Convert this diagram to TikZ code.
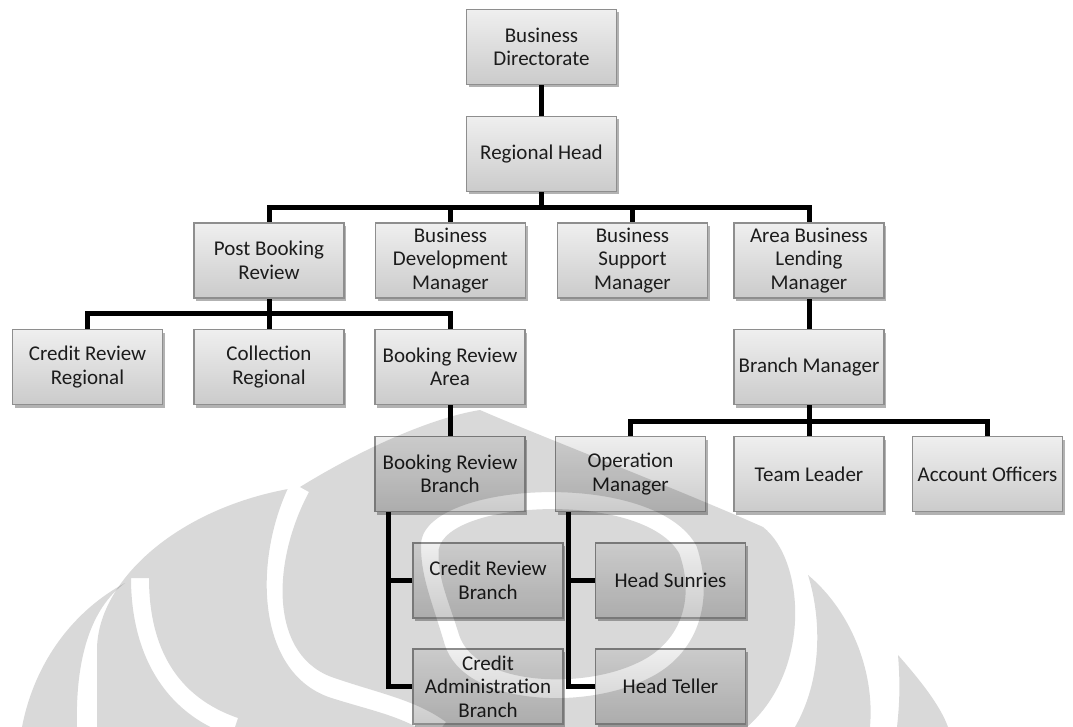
\documentclass[tikz,border=0pt]{standalone}
\usepackage{fontspec}
\setmainfont{Carlito}
\usetikzlibrary{shadows}
\pgfdeclarelayer{background}
\pgfdeclarelayer{foreground}
\pgfsetlayers{background,main,foreground}
\definecolor{boxtop}{HTML}{EFEFEF}
\definecolor{boxbot}{HTML}{CBCBCB}
\definecolor{boxline}{HTML}{8E8E8E}
\definecolor{txt}{HTML}{1C1C1C}
\begin{document}
\begin{tikzpicture}[x=1pt,y=-1pt,
  box/.style={rectangle, draw=boxline, line width=1.2pt, top color=boxtop, bottom color=boxbot,
    minimum width=150pt, minimum height=75pt, inner sep=1pt, align=center, text=txt,
    font=\fontsize{21pt}{23.5pt}\selectfont,
    drop shadow={shadow xshift=2pt, shadow yshift=-3pt, opacity=0.3, fill=black}},
  link/.style={line width=5pt, draw=black},
  wmark/.style={fill=black, fill opacity=0.15}]
\useasboundingbox (0,0) rectangle (1073,727);

\node[box] (bd) at (541.5,47) {Business\\Directorate};
\node[box] (rh) at (541.5,154) {Regional Head};
\node[box] (pbr) at (269,260.5) {Post Booking\\Review};
\node[box] (bdm) at (450.5,260.5) {Business\\Development\\Manager};
\node[box] (bsm) at (632.5,260.5) {Business\\Support\\Manager};
\node[box] (ablm) at (809,260.5) {Area Business\\Lending\\Manager};
\node[box] (crr) at (87.5,367) {Credit Review\\Regional};
\node[box] (cr) at (269,367) {Collection\\Regional};
\node[box] (bra) at (450,367) {Booking Review\\Area};
\node[box] (bm) at (809,367) {Branch Manager};
\node[box] (brb) at (450,474) {Booking Review\\Branch};
\node[box] (om) at (630.5,474) {Operation\\Manager};
\node[box] (tl) at (809,474) {Team Leader};
\node[box] (ao) at (987.5,474) {Account Officers};
\node[box] (crb) at (488,580.5) {Credit Review\\Branch};
\node[box] (cab) at (488,686.5) {Credit\\Administration\\Branch};
\node[box] (hs) at (670.5,580.5) {Head Sunries};
\node[box] (ht) at (670.5,686.5) {Head Teller};

\begin{pgfonlayer}{background}
\draw[link] (bd) -- (rh);
\foreach \c in {pbr,bdm,bsm,ablm} \draw[link] (rh.south) -- ++(0,15) -| (\c.north);
\foreach \c in {crr,cr,bra} \draw[link] (pbr.south) -- ++(0,15) -| (\c.north);
\draw[link] (bra) -- (brb);
\draw[link] (ablm) -- (bm);
\foreach \c in {om,tl,ao} \draw[link] (bm.south) -- ++(0,16) -| (\c.north);
\draw[link] (brb.south west) ++(14,0) |- (crb.west);
\draw[link] (brb.south west) ++(14,0) |- (cab.west);
\draw[link] (om.south west) ++(14,0) |- (hs.west);
\draw[link] (om.south west) ++(14,0) |- (ht.west);
\end{pgfonlayer}

\begin{pgfonlayer}{foreground}
  % main dome with its white gaps
  \begin{scope}
  \clip (97,727) -- (97,650) .. controls (97,580) and (180,505) .. (300,487)
     .. controls (360,450) and (430,418) .. (480,410)
     .. controls (530,432) and (680,490) .. (763,527)
     .. controls (805,560) and (812,670) .. (747,727) -- cycle;
  \fill[wmark, even odd rule] (0,0) rectangle (1073,727)
     (131,578) .. controls (131,652) and (163,713) .. (232,736)
       -- (238,718) .. controls (177,697) and (149,648) .. (149,578) -- cycle
     (291,482) .. controls (253,557) and (255,672) .. (330,697.5)
       .. controls (372,711) and (404,716) .. (434,738)
       -- (446,722) .. controls (416,700) and (378,693) .. (336,678.5)
       .. controls (269,658) and (271,563) .. (309,492) -- cycle
     (421.3,540.7) .. controls (432,480.5) and (656,469.5) .. (696.6,546.2)
       .. controls (714.7,601) and (698.7,655.7) .. (645.4,679.8)
       .. controls (581.3,710.5) and (464,705) .. (444.8,644.8)
       .. controls (432,601) and (419.2,573.6) .. cycle
     (438.7,549.3) .. controls (448,499.5) and (644,490.4) .. (679.4,553.8)
       .. controls (695.3,599) and (681.3,644.3) .. (634.6,664.2)
       .. controls (578.7,689.6) and (476,685) .. (459.2,635.3)
       .. controls (448,599) and (436.8,576.4) .. cycle;
  \end{scope}
  % outer crescents
  \fill[wmark] (22,727) .. controls (35,660) and (75,610) .. (125,583)
     .. controls (95,605) and (75,650) .. (77,727) -- cycle;
  \fill[wmark] (808,575) .. controls (850,610) and (875,670) .. (870,727)
     -- (795,727) .. controls (822,680) and (822,620) .. (808,575) -- cycle;
  \fill[wmark] (898,655) .. controls (920,680) and (940,705) .. (948,727)
     -- (897,727) .. controls (900,700) and (900,680) .. (898,655) -- cycle;
\end{pgfonlayer}
\end{tikzpicture}
\end{document}
